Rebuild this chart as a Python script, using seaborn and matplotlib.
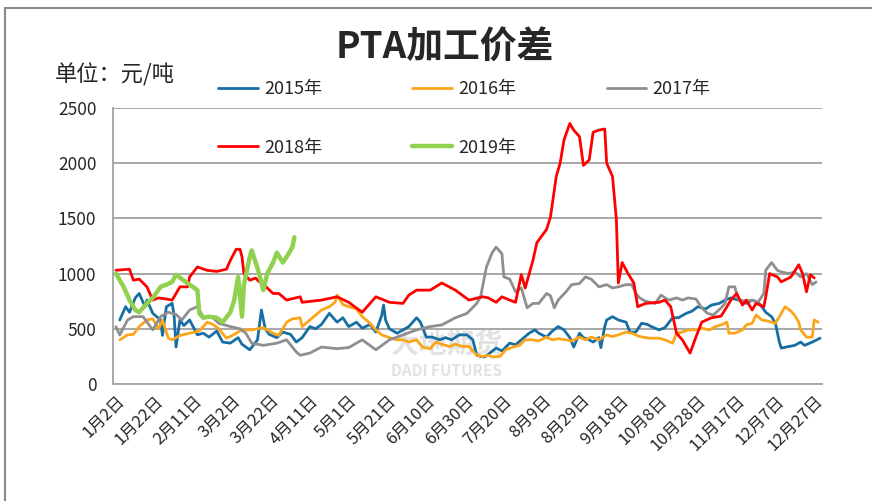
import matplotlib
matplotlib.use("Agg")
import matplotlib.pyplot as plt
from matplotlib.lines import Line2D
import pandas as pd
import seaborn as sns

# x = days after 1月2日 (leap-year calendar, as in the source chart)
days_2015 = [2, 5, 7, 10, 12, 15, 16, 19, 23, 24, 26, 29, 30, 31, 33, 35, 38, 42, 45, 48,
             52, 55, 59, 63, 65, 69, 73, 75, 77, 79, 83, 86, 90, 93, 96, 100, 103, 106, 110, 114,
             117, 120, 124, 127, 131, 134, 137, 138, 139, 141, 145, 148, 151, 155, 157, 160, 163,
             167, 170, 173, 177, 181, 184, 186, 188, 190, 192, 196, 199, 203, 206, 209, 213, 216,
             218, 222, 225, 228, 231, 234, 236, 239, 241, 244, 246, 249, 250, 252, 253, 256, 259,
             263, 265, 268, 271, 274, 276, 280, 283, 287, 290, 294, 297, 300, 304, 307, 311, 314,
             317, 321, 325, 328, 331, 333, 335, 338, 340, 342, 343, 347, 350, 353, 355, 359, 363]
vals_2015 = [580, 700, 650, 780, 820, 700, 760, 640, 580, 440, 700, 730, 620, 335, 580, 530, 580, 445, 460, 425,
             480, 380, 370, 420, 360, 310, 400, 670, 500, 450, 420, 470, 450, 380, 420, 520, 500, 540, 640, 560,
             600, 520, 560, 505, 540, 470, 620, 715, 580, 500, 460, 490, 520, 600, 560, 425, 425,
             400, 420, 400, 445, 445, 400, 260, 250, 245, 270, 325, 300, 370, 355, 400, 460, 490,
             460, 425, 480, 520, 490, 420, 335, 460, 420, 400, 380, 420, 330, 520, 580, 610, 580,
             560, 470, 470, 550, 540, 520, 490, 510, 600, 600, 640, 660, 700, 680, 715, 730, 760,
             780, 760, 730, 760, 740, 700, 650, 610, 550, 380, 325, 340, 350, 380, 350, 380, 415]

days_2016 = [2, 6, 9, 12, 16, 19, 22, 24, 27, 29, 33, 38, 43, 47, 50, 53, 57, 60, 65, 70,
             76, 78, 81, 84, 88, 91, 95, 96, 100, 103, 106, 110, 113, 114, 117, 120, 124, 127, 131, 134,
             137, 141, 145, 148, 151, 155, 158, 162, 165, 168, 172, 175, 179, 182, 186, 189, 192, 194,
             198, 201, 204, 208, 211, 215, 218, 222, 225, 228, 232, 235, 239, 242, 245, 249, 253, 256,
             259, 263, 266, 270, 275, 280, 283, 287, 289, 292, 295, 299, 302, 306, 309, 312, 315, 316,
             319, 323, 325, 328, 330, 333, 336, 340, 343, 345, 348, 350, 352, 353, 356, 359, 360, 362]
vals_2016 = [400, 445, 450, 520, 580, 590, 500, 580, 415, 400, 440, 460, 480, 560, 540, 500, 415, 440, 490, 490,
             510, 490, 460, 440, 560, 590, 600, 520, 580, 625, 670, 700, 740, 805, 720, 700, 680, 610, 550, 490,
             445, 420, 400, 400, 380, 400, 335, 320, 380, 360, 340, 360, 340, 340, 260, 250, 260, 245,
             250, 310, 330, 350, 400, 400, 390, 425, 400, 410, 400, 390, 425, 400, 425, 400, 445, 430,
             445, 470, 460, 430, 415, 415, 400, 370, 460, 470, 490, 490, 505, 490, 520, 535, 560, 460,
             460, 490, 535, 550, 625, 580, 570, 550, 640, 700, 660, 620, 560, 490, 425, 425, 580, 560]

days_2017 = [0, 2, 6, 9, 14, 19, 23, 27, 31, 34, 38, 42, 45, 50, 53, 59, 64, 67, 70, 76,
             83, 88, 93, 95, 100, 106, 114, 120, 127, 134, 141, 148, 155, 162, 168, 175, 181, 186,
             188, 191, 194, 196, 199, 200, 203, 206, 209, 212, 215, 218, 222, 224, 226, 228, 232,
             235, 239, 242, 245, 249, 253, 256, 259, 263, 266, 268, 270, 273, 278, 281, 285, 289,
             292, 295, 299, 302, 305, 308, 312, 314, 316, 319, 321, 325, 328, 331, 334, 335, 338,
             341, 343, 347, 350, 353, 356, 359, 361]
vals_2017 = [520, 445, 580, 610, 610, 490, 610, 650, 630, 580, 670, 700, 610, 600, 550, 520, 500, 460, 370, 350,
             370, 400, 290, 260, 280, 335, 320, 330, 400, 310, 400, 445, 490, 520, 535, 600, 640, 730,
             790, 1060, 1190, 1240, 1180, 970, 950, 835, 870, 690, 730, 730, 820, 800, 690, 760, 835,
             900, 910, 970, 950, 880, 900, 870, 880, 900, 900, 820, 780, 750, 730, 805, 760, 780,
             760, 780, 770, 690, 640, 625, 690, 730, 880, 880, 760, 750, 760, 740, 820, 1030, 1100,
             1030, 1015, 1000, 1015, 970, 1000, 900, 925]

days_2018 = [0, 7, 9, 12, 16, 19, 22, 26, 29, 33, 37, 38, 42, 47, 52, 57, 59, 62, 64, 65,
             66, 69, 72, 73, 78, 81, 84, 88, 95, 96, 106, 114, 120, 127, 134, 141, 148, 151, 155, 162,
             168, 175, 182, 189, 192, 196, 199, 203, 206, 209, 211, 215, 217, 222, 224, 227, 229, 231,
             234, 236, 239, 241, 244, 246, 249, 252, 253, 256, 258, 259, 261, 264, 267, 269, 273, 280,
             283, 286, 289, 292, 296, 299, 302, 307, 312, 315, 317, 320, 323, 325, 328, 330, 334, 335,
             337, 341, 343, 348, 352, 354, 356, 358, 360]
vals_2018 = [1030, 1040, 940, 950, 880, 760, 780, 770, 760, 880, 880, 970, 1060, 1030, 1020, 1040, 1120, 1220, 1220, 1150,
             1000, 940, 960, 940, 870, 820, 820, 760, 790, 740, 760, 790, 740, 650, 790, 740, 730, 805, 850, 850,
             915, 850, 760, 790, 780, 740, 790, 760, 740, 990, 870, 1120, 1280, 1400, 1510, 1880, 2000, 2210,
             2360, 2300, 2240, 1980, 2030, 2280, 2300, 2310, 2000, 1880, 1490, 915, 1100, 1000, 915, 700, 730, 740,
             760, 700, 460, 400, 280, 425, 560, 600, 615, 700, 760, 820, 715, 760, 670, 730, 700, 790,
             1000, 970, 925, 970, 1080, 1000, 835, 990, 960]

days_2019 = [0, 4, 7, 10, 12, 16, 19, 23, 26, 29, 31, 34, 38, 42, 43, 45, 48, 52, 55, 59,
             61, 63, 65, 66, 69, 70, 73, 76, 78, 81, 83, 86, 88, 91, 92]
vals_2019 = [1000, 880, 760, 670, 650, 730, 780, 880, 900, 925, 990, 950, 900, 850, 640, 600, 610, 600, 560, 650,
             760, 970, 610, 900, 1150, 1210, 1050, 850, 1000, 1100, 1190, 1100, 1150, 1240, 1330]

years = ["2015年", "2016年", "2017年", "2018年", "2019年"]
colors = ["#176ea3", "#fba61a", "#8f8f8f", "#ff0000", "#92d050"]
widths = [2.0, 2.0, 2.0, 2.0, 3.2]

tick_days = list(range(0, 361, 20))
tick_labels = ["1月2日", "1月22日", "2月11日", "3月2日", "3月22日", "4月11日", "5月1日",
               "5月21日", "6月10日", "6月30日", "7月20日", "8月9日", "8月29日", "9月18日",
               "10月8日", "10月28日", "11月17日", "12月7日", "12月27日"]

sns.set_style("white")
plt.rcParams["font.family"] = ["Noto Sans CJK SC", "DejaVu Sans"]

W, H = 872, 501
fig = plt.figure(figsize=(W / 100, H / 100), dpi=100)
ax = fig.add_axes([113 / W, 1 - 384 / H, (822 - 113) / W, (384 - 108) / H])

# faint watermark behind the data
ax.text(0.47, 0.088, "大地期货", transform=ax.transAxes, ha="center", va="bottom",
        fontsize=20, fontweight="bold", color="#e2e2e2", zorder=0)
ax.text(0.47, 0.075, "DADI FUTURES", transform=ax.transAxes, ha="center", va="top",
        fontsize=11, fontweight="bold", color="#e2e2e2", zorder=0)

series = [(days_2015, vals_2015), (days_2016, vals_2016), (days_2017, vals_2017),
          (days_2018, vals_2018), (days_2019, vals_2019)]
for (d, v), name, c, lw in zip(series, years, colors, widths):
    df = pd.DataFrame({"day": d, "value": v})
    sns.lineplot(data=df, x="day", y="value", ax=ax, color=c, linewidth=lw,
                 label=name, estimator=None, sort=False)

ax.set_xlim(-1.5, 364)
ax.set_ylim(0, 2500)
ax.set_yticks(range(0, 2501, 500))
ax.set_xticks(tick_days)
ax.set_xticklabels(tick_labels, rotation=45, ha="right", va="top", rotation_mode="anchor", fontsize=12)
ax.tick_params(axis="y", length=0, pad=12, labelsize=12.5)
ax.tick_params(axis="x", length=0, pad=6)
ax.set_xlabel("")
ax.set_ylabel("")
ax.yaxis.grid(True, color="#a8a8a8", linewidth=1.4)
ax.set_axisbelow(True)
for s in ["top", "right"]:
    ax.spines[s].set_visible(False)
for s in ["left", "bottom"]:
    ax.spines[s].set_color("#a8a8a8")
    ax.spines[s].set_linewidth(1.4)

# legend laid out row by row: 2015 2016 2017 / 2018 2019
handles, labels = ax.get_legend_handles_labels()
ax.get_legend().remove()
order = [0, 3, 1, 4, 2]
fig.legend([handles[i] for i in order], [labels[i] for i in order], ncol=3,
           loc="upper left", bbox_to_anchor=(218 / W, 1 - 80 / H), frameon=False,
           fontsize=13, handlelength=2.2, handletextpad=0.35, columnspacing=5.0,
           labelspacing=2.25, borderpad=0, borderaxespad=0)

fig.text(445 / W, 1 - 48 / H, "PTA加工价差", ha="center", va="center",
         fontsize=26.5, fontweight="bold")
fig.text(55 / W, 1 - 75 / H, "单位：元/吨", ha="left", va="center", fontsize=16)

# chart frame (top and left edges visible in the picture)
fig.add_artist(Line2D([5 / W, 1], [1 - 8 / H, 1 - 8 / H], transform=fig.transFigure,
                      color="#8a8a8a", linewidth=1.5))
fig.add_artist(Line2D([5 / W, 5 / W], [0, 1 - 8 / H], transform=fig.transFigure,
                      color="#8a8a8a", linewidth=1.5))

fig.savefig("out.png", dpi=100)
